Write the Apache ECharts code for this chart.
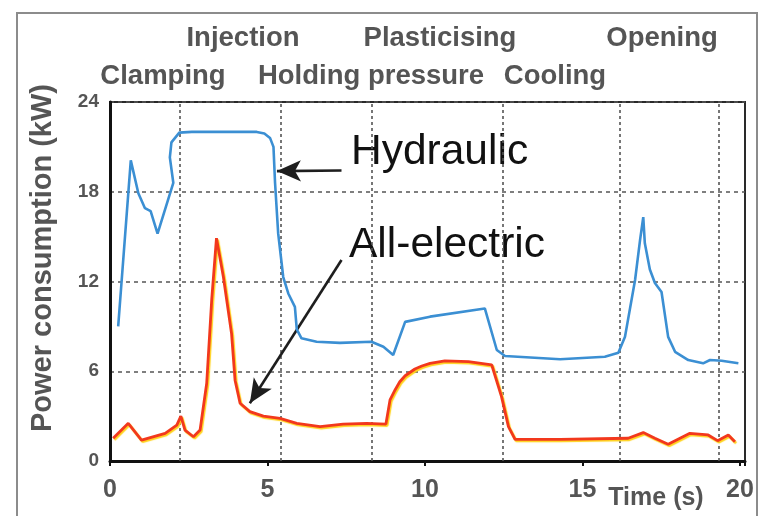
<!DOCTYPE html>
<html>
<head>
<meta charset="utf-8">
<script src="https://cdn.jsdelivr.net/npm/echarts@6/dist/echarts.min.js"></script>
<style>html,body{margin:0;padding:0;background:#fff;}#chart{width:768px;height:516px;}</style>
</head>
<body>
<div id="chart"></div>
<script>
// ---- data ----
var hydraulicT  = [0.26, 0.66, 0.90, 1.11, 1.29, 1.51, 2.01, 1.90, 1.95, 2.2, 2.6, 4.66, 4.9, 5.08, 5.19, 5.24, 5.34, 5.50, 5.66, 5.87, 5.93, 6.08, 6.56, 7.3, 8.3, 8.68, 8.99, 9.37, 10.16, 11.9, 12.28, 12.54, 14.29, 15.71, 16.14, 16.35, 16.67, 16.83, 16.93, 16.98, 17.14, 17.3, 17.51, 17.72, 17.94, 18.36, 18.83, 19.05, 19.42, 19.95];
var hydraulicKW = [9.0, 20.1, 17.9, 16.9, 16.7, 15.2, 18.6, 20.3, 21.3, 21.95, 22.0, 22.0, 21.9, 21.6, 21.0, 18.6, 15.2, 12.3, 11.2, 10.3, 8.8, 8.2, 7.97, 7.9, 7.97, 7.64, 7.09, 9.3, 9.65, 10.2, 7.42, 7.02, 6.8, 6.97, 7.24, 8.3, 12.1, 14.8, 16.3, 14.55, 12.8, 11.9, 11.3, 8.3, 7.3, 6.75, 6.53, 6.75, 6.7, 6.53];
var electricT  = [0.1, 0.58, 1.0, 1.75, 2.12, 2.25, 2.38, 2.65, 2.86, 3.07, 3.23, 3.38, 3.6, 3.86, 3.97, 4.13, 4.44, 4.87, 5.4, 5.93, 6.67, 7.4, 8.15, 8.76, 8.89, 9.05, 9.2, 9.37, 9.68, 9.9, 10.16, 10.63, 11.38, 12.12, 12.43, 12.65, 12.86, 14.29, 16.45, 16.93, 17.3, 17.72, 18.41, 18.99, 19.29, 19.63, 19.84];
var electricKW = [1.52, 2.52, 1.4, 1.85, 2.4, 3.0, 2.07, 1.62, 2.07, 5.2, 10.8, 14.9, 12.3, 8.5, 5.4, 3.86, 3.3, 3.0, 2.85, 2.52, 2.3, 2.47, 2.52, 2.47, 4.08, 4.75, 5.3, 5.7, 6.15, 6.35, 6.53, 6.7, 6.64, 6.42, 4.3, 2.3, 1.45, 1.45, 1.52, 1.9, 1.52, 1.12, 1.85, 1.74, 1.36, 1.74, 1.29];
var phaseBoundaries = [2.22, 5.43, 8.32, 12.48, 16.19, 19.33];
var phaseNamesTop = ['Injection', 'Plasticising', 'Opening'];
var phaseNamesBottom = ['Clamping', 'Holding pressure', 'Cooling'];
var xTickLabels = [0, 5, 10, 15, 20];
var yTickLabels = [0, 6, 12, 18, 24];
var seriesNames = ['Hydraulic', 'All-electric'];
var hydraulicArrow = [[7.35, 19.42], [5.30, 19.38]];
var electricArrow = [[7.35, 13.44], [4.44, 3.86]];

function zip(a, b) { return a.map(function (v, i) { return [v, b[i]]; }); }

var gray = '#555555';
var phaseFont = 'bold 27.5px "Liberation Sans", Arial';
var chart = echarts.init(document.getElementById('chart'), null, {renderer: 'canvas'});

var option = {
  backgroundColor: '#ffffff',
  animation: false,
  grid: {left: 110, right: 23, top: 102, bottom: 55, show: true, borderColor: '#2a2a2a', borderWidth: 2},
  xAxis: {
    type: 'value', min: 0, max: 20.16, interval: 5,
    axisLine: {show: true, onZero: false, lineStyle: {color: '#111', width: 3}},
    axisTick: {show: true, length: 5, lineStyle: {color: '#111', width: 2}},
    splitLine: {show: false},
    axisLabel: {
      color: gray, fontSize: 25, fontWeight: 'bold', fontFamily: 'Liberation Sans, Arial', margin: 17,
      formatter: function (v) { return xTickLabels.indexOf(v) >= 0 ? String(v) : ''; }
    }
  },
  yAxis: {
    type: 'value', min: 0, max: 24, interval: 6,
    axisLine: {show: true, lineStyle: {color: '#111', width: 3}},
    axisTick: {show: false},
    splitLine: {show: true, lineStyle: {color: '#555', width: 1.5, type: [4, 4]}},
    axisLabel: {
      color: gray, fontSize: 19, fontWeight: 'bold', fontFamily: 'Liberation Sans, Arial', margin: 11,
      formatter: function (v) { return yTickLabels.indexOf(v) >= 0 ? String(v) : ''; }
    }
  },
  series: [
    {
      name: seriesNames[0], type: 'line', data: zip(hydraulicT, hydraulicKW),
      showSymbol: false, symbol: 'none', z: 5,
      lineStyle: {color: '#3b8fd3', width: 2.6},
      markLine: {
        silent: true, symbol: ['none', 'none'], label: {show: false},
        lineStyle: {color: '#555', width: 1.6, type: [3, 3]},
        data: phaseBoundaries.map(function (b) { return {xAxis: b}; })
      }
    },
    {
      name: seriesNames[1], type: 'line', data: zip(electricT, electricKW),
      showSymbol: false, symbol: 'none', z: 6,
      lineStyle: {color: '#f2381d', width: 2.8, shadowColor: '#ffd21a', shadowBlur: 1, shadowOffsetX: 1.2, shadowOffsetY: 1.5},
      markLine: {
        silent: true, label: {show: false}, symbol: ['none', 'arrow'], symbolSize: [16, 24],
        lineStyle: {color: '#1e1e1e', width: 2.6, type: 'solid'},
        data: [
          [{coord: hydraulicArrow[0]}, {coord: hydraulicArrow[1]}],
          [{coord: electricArrow[0]}, {coord: electricArrow[1]}]
        ]
      }
    }
  ],
  graphic: [
    {type: 'rect', silent: true, z: -10, shape: {x: 17, y: 13, width: 740, height: 520}, style: {fill: 'none', stroke: '#8c8c8c', lineWidth: 2}},
    {type: 'text', style: {x: 243, y: 38, text: phaseNamesTop[0], fill: gray, font: phaseFont, textAlign: 'center', textVerticalAlign: 'middle'}},
    {type: 'text', style: {x: 440, y: 38, text: phaseNamesTop[1], fill: gray, font: phaseFont, textAlign: 'center', textVerticalAlign: 'middle'}},
    {type: 'text', style: {x: 662, y: 38, text: phaseNamesTop[2], fill: gray, font: phaseFont, textAlign: 'center', textVerticalAlign: 'middle'}},
    {type: 'text', style: {x: 163, y: 76, text: phaseNamesBottom[0], fill: gray, font: phaseFont, textAlign: 'center', textVerticalAlign: 'middle'}},
    {type: 'text', style: {x: 371, y: 76, text: phaseNamesBottom[1], fill: gray, font: phaseFont, textAlign: 'center', textVerticalAlign: 'middle'}},
    {type: 'text', style: {x: 555, y: 76, text: phaseNamesBottom[2], fill: gray, font: phaseFont, textAlign: 'center', textVerticalAlign: 'middle'}},
    {type: 'text', style: {x: 351, y: 152, text: seriesNames[0], fill: '#111', font: '42.5px "Liberation Sans", Arial', textAlign: 'left', textVerticalAlign: 'middle'}},
    {type: 'text', style: {x: 349, y: 245, text: seriesNames[1], fill: '#111', font: '42.5px "Liberation Sans", Arial', textAlign: 'left', textVerticalAlign: 'middle'}},
    {type: 'text', style: {x: 656, y: 498, text: 'Time (s)', fill: gray, font: 'bold 25px "Liberation Sans", Arial', textAlign: 'center', textVerticalAlign: 'middle'}},
    {type: 'text', x: 43, y: 258, rotation: Math.PI / 2, style: {x: 0, y: 0, text: 'Power consumption (kW)', fill: gray, font: 'bold 29px "Liberation Sans", Arial', textAlign: 'center', textVerticalAlign: 'middle'}}
  ]
};
chart.setOption(option);
</script>
</body>
</html>
